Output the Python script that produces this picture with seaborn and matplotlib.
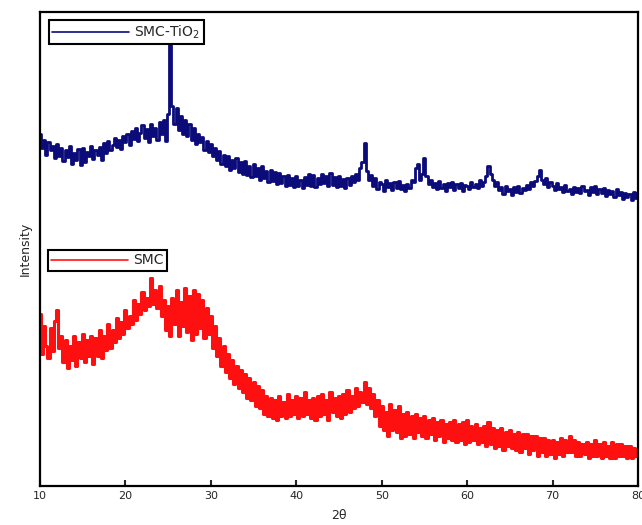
import numpy as np
import pandas as pd
import matplotlib
matplotlib.use("Agg")
import matplotlib.pyplot as plt
import seaborn as sns

# 2theta grid, 0.25 degree steps from 10 to 80
two_theta = np.arange(10, 80.001, 0.25)

# SMC-TiO2 trace (a.u.), 4 points per degree
smc_tio2 = [
    352, 338, 346, 331,  344, 336, 340, 328,  342, 330, 338, 325,
    336, 329, 340, 322,  333, 326, 337, 321,  338, 324, 334, 330,
    340, 327, 336, 331,  339, 326, 343, 333,  345, 336, 341, 348,
    339, 346, 337, 350,  344, 352, 341, 355,  347, 358, 345, 353,
    361, 348, 357, 344,  362, 350, 358, 346,  364, 352, 366, 345,
    372, 441, 380, 362,  378, 356, 370, 352,  366, 350, 362, 346,
    358, 342, 352, 344,  349, 336, 345, 334,  342, 330, 338, 326,
    335, 322, 331, 320,  330, 316, 326, 318,  328, 314, 324, 312,
    325, 311, 320, 309,  322, 310, 318, 306,  320, 308, 315, 304,
    316, 305, 314, 302,  313, 303, 310, 300,  311, 301, 308, 299,
    310, 300, 306, 298,  309, 301, 312, 300,  311, 299, 308, 302,
    312, 303, 310, 300,  313, 301, 309, 299,  310, 300, 307, 298,
    308, 301, 310, 304,  312, 306, 318, 324,  343, 315, 306, 311,
    300, 308, 297, 304,  302, 295, 306, 299,  303, 296, 304, 298,
    305, 297, 301, 295,  302, 298, 306, 304,  318, 322, 306, 312,
    328, 310, 302, 306,  299, 303, 297, 305,  298, 302, 295, 303,
    299, 304, 296, 302,  298, 303, 295, 301,  300, 297, 304, 299,
    302, 298, 306, 300,  304, 310, 320, 312,  306, 300, 304, 296,
    299, 292, 300, 295,  297, 291, 299, 294,  300, 293, 298, 296,
    301, 297, 304, 300,  305, 310, 316, 306,  302, 308, 299, 304,
    300, 296, 303, 297,  299, 294, 301, 295,  297, 292, 299, 294,
    298, 293, 300, 295,  296, 291, 299, 294,  300, 292, 297, 293,
    298, 290, 296, 292,  295, 289, 297, 291,  294, 287, 293, 289,
    292, 286, 294, 288,  293,
]

# SMC trace (a.u.)
smc = [
    172, 132, 160, 140,  128, 158, 135, 165,  176, 138, 150, 124,
    146, 118, 140, 126,  150, 120, 144, 128,  152, 124, 146, 130,
    150, 122, 148, 130,  156, 128, 150, 136,  162, 138, 156, 144,
    168, 148, 164, 152,  176, 158, 170, 162,  186, 166, 182, 172,
    194, 176, 188, 180,  208, 182, 196, 178,  200, 170, 186, 156,
    180, 150, 188, 162,  196, 150, 184, 160,  198, 154, 190, 146,
    196, 152, 192, 158,  186, 148, 178, 152,  170, 138, 160, 130,
    148, 120, 140, 114,  132, 108, 126, 102,  120, 98, 116, 94,
    112, 88, 108, 86,  104, 80, 100, 78,  96, 72, 90, 70,
    88, 68, 86, 66,  90, 70, 84, 68,  92, 70, 86, 72,
    90, 68, 88, 70,  94, 72, 86, 68,  88, 66, 90, 70,
    92, 72, 86, 66,  94, 74, 88, 70,  90, 68, 92, 72,
    96, 74, 90, 78,  98, 80, 94, 84,  104, 82, 98, 78,
    92, 70, 86, 60,  80, 56, 74, 50,  82, 56, 76, 54,
    80, 48, 72, 50,  74, 52, 70, 48,  72, 54, 68, 50,
    70, 48, 66, 52,  68, 46, 64, 50,  66, 44, 62, 48,
    64, 46, 66, 44,  62, 46, 64, 42,  66, 44, 60, 46,
    62, 42, 58, 44,  60, 40, 64, 42,  58, 38, 56, 40,
    58, 36, 54, 40,  56, 38, 52, 36,  54, 34, 52, 38,
    52, 32, 50, 36,  50, 30, 48, 34,  48, 30, 46, 32,
    46, 28, 44, 32,  48, 30, 46, 34,  50, 34, 46, 30,
    44, 30, 42, 32,  44, 28, 42, 30,  46, 30, 42, 28,
    44, 30, 40, 28,  44, 28, 42, 30,  42, 30, 40, 28,
    40, 28, 38, 30,  36,
]

xticks = [10, 20, 30, 40, 50, 60, 70, 80]

df = pd.DataFrame({"2theta": two_theta, "SMC-TiO2": smc_tio2, "SMC": smc})

sns.set_style("ticks")
plt.rcParams["font.family"] = ["DejaVu Sans"]

fig = plt.figure(figsize=(6.42, 5.25), dpi=100)
ax = fig.add_axes([40 / 642, 39 / 525, 598 / 642, 474 / 525])

sns.lineplot(data=df, x="2theta", y="SMC-TiO2", ax=ax, color="#0b0b7a",
             lw=2.0, drawstyle="steps-mid", estimator=None)
sns.lineplot(data=df, x="2theta", y="SMC", ax=ax, color="#ff1010",
             lw=2.2, drawstyle="steps-mid", estimator=None)

ax.set_xlim(10, 80)
ax.set_ylim(0, 474)
ax.set_xticks(xticks)
ax.set_xticklabels([str(t) for t in xticks], fontsize=8)
ax.set_yticks([])
ax.tick_params(axis="x", direction="in", length=4, width=1.5)
for s in ax.spines.values():
    s.set_visible(True)
    s.set_linewidth(1.6)
    s.set_color("black")

ax.set_xlabel("2θ", fontsize=9, labelpad=6)
ax.set_ylabel("Intensity", fontsize=9, labelpad=6)

lines = ax.get_lines()
leg1 = ax.legend([lines[0]], ["SMC-TiO$_2$"], loc="upper left",
                 bbox_to_anchor=(0.015, 0.983), fancybox=False, framealpha=1,
                 edgecolor="black", handlelength=5.5, fontsize=10,
                 borderpad=0.25, handletextpad=0.4, borderaxespad=0)
leg1.get_frame().set_linewidth(1.5)
leg1.get_lines()[0].set_linewidth(1.2)
ax.add_artist(leg1)
leg2 = ax.legend([lines[1]], ["SMC"], loc="upper left",
                 bbox_to_anchor=(0.013, 0.498), fancybox=False, framealpha=1,
                 edgecolor="black", handlelength=5.5, fontsize=10,
                 borderpad=0.25, handletextpad=0.4, borderaxespad=0)
leg2.get_frame().set_linewidth(1.5)
leg2.get_lines()[0].set_linewidth(1.2)

fig.savefig("out.png", dpi=100)
